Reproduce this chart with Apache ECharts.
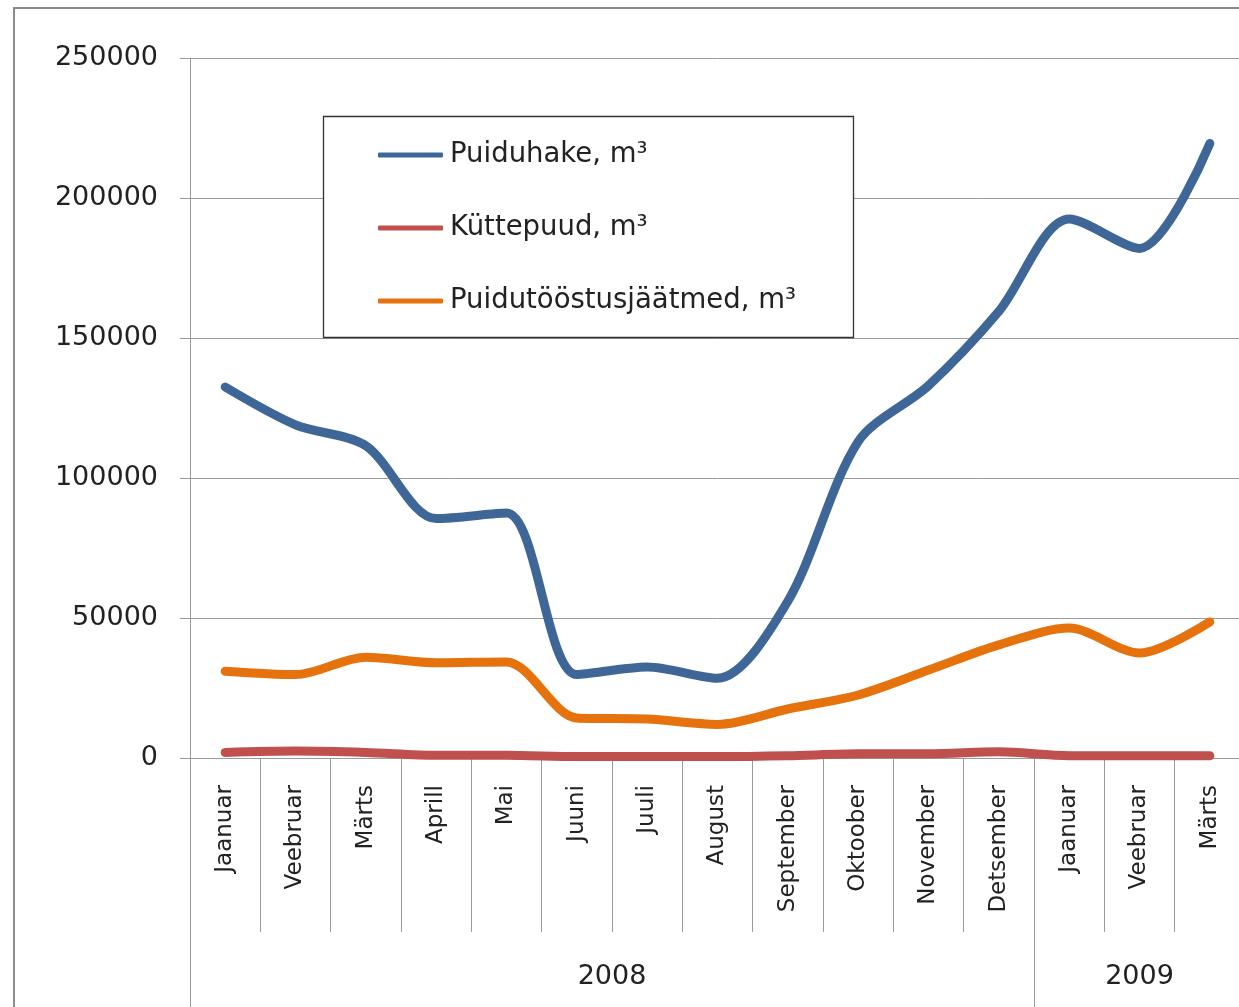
<!DOCTYPE html>
<html>
<head>
<meta charset="utf-8">
<script src="https://cdn.jsdelivr.net/npm/echarts@6/dist/echarts.min.js"></script>
<style>
html,body{margin:0;padding:0;background:#fff;overflow:hidden;width:1239px;height:1007px;}
#c{width:1245px;height:1007px;}
</style>
</head>
<body>
<div id="c"></div>
<script>
var months = ['Jaanuar','Veebruar','Märts','Aprill','Mai','Juuni','Juuli','August','September','Oktoober','November','Detsember','Jaanuar','Veebruar','Märts'];
var years = ['2008','2009'];
var yearSpans = [12, 3];
var yTicks = [0, 50000, 100000, 150000, 200000, 250000];

var puiduhake = [132500,119000,111500,85500,87500,29800,32500,28500,56000,113000,133000,159500,192500,182000,219500];
var kuttepuud = [2000,2500,2000,1000,1000,500,500,500,800,1500,1500,2200,800,800,800];
var jaatmed   = [31000,29800,36000,34000,34300,14300,13900,12000,17500,22500,31400,40400,46400,37500,48600];

var seriesNames = ['Puiduhake, m³','Küttepuud, m³','Puidutööstusjäätmed, m³'];
var colors = ['#3E6797','#C0504D','#E5720D'];

// year group boundaries & centres (derived from spans)
var yearBounds = [0], yearCenters = [];
(function(){ var acc = 0; for (var i = 0; i < yearSpans.length; i++) { yearCenters.push(acc + yearSpans[i]/2); acc += yearSpans[i]; yearBounds.push(acc); } })();

var chart = echarts.init(document.getElementById('c'));
var gray = '#9a9a9a';
var txt = '#222';
var font = 'DejaVu Sans';
var SMOOTH = 0.3;

chart.setOption({
  animation: false,
  backgroundColor: '#fff',
  textStyle: { fontFamily: font },
  graphic: [
    { type: 'rect', z: 0, shape: { x: 14, y: 8, width: 1400, height: 1200 }, style: { fill: 'none', stroke: '#8a8a8a', lineWidth: 2 } },
    { type: 'rect', z: 3, shape: { x: 323.5, y: 116.5, width: 530, height: 221 }, style: { fill: '#fff', stroke: '#333', lineWidth: 1.3 } }
  ],
  legend: {
    orient: 'vertical',
    left: 378, top: 140,
    padding: 0,
    itemWidth: 65, itemHeight: 5, itemGap: 43,
    icon: 'roundRect',
    z: 5,
    data: seriesNames,
    textStyle: { fontFamily: font, fontSize: 27.5, color: txt, lineHeight: 30, padding: [0,0,0,2] }
  },
  grid: { left: 190, top: 58, bottom: 249, right: 0, containLabel: false },
  xAxis: [{
    type: 'category',
    data: months,
    boundaryGap: true,
    axisLine: { show: true, lineStyle: { color: gray, width: 1 } },
    axisTick: { show: true, interval: 0, length: 174, lineStyle: { color: gray, width: 1 } },
    axisLabel: { interval: 0, rotate: 90, margin: 27, fontFamily: font, fontSize: 23, color: txt },
    splitLine: { show: false }
  }, {
    type: 'value',
    position: 'bottom',
    min: 0, max: yearBounds[yearBounds.length-1],
    axisLine: { show: false },
    axisTick: { show: true, customValues: yearBounds, length: 249, lineStyle: { color: gray, width: 1 } },
    axisLabel: {
      show: true, customValues: yearCenters, margin: 204,
      fontFamily: font, fontSize: 27, color: txt, lineHeight: 30,
      formatter: function (v) { var i = yearCenters.indexOf(v); return i >= 0 ? years[i] : ''; }
    },
    splitLine: { show: false }
  }],
  yAxis: {
    type: 'value',
    min: yTicks[0], max: yTicks[yTicks.length-1], interval: yTicks[1]-yTicks[0],
    axisLine: { show: true, lineStyle: { color: gray, width: 1 } },
    axisTick: { show: true, length: 10, lineStyle: { color: gray, width: 1 } },
    axisLabel: { margin: 32, fontFamily: font, fontSize: 27, color: txt, formatter: function (v) { return String(v); } },
    splitLine: { show: true, lineStyle: { color: gray, width: 1 } }
  },
  series: [
    { name: seriesNames[0], type: 'line', data: puiduhake, smooth: SMOOTH, symbol: 'none', z: 2, color: colors[0], lineStyle: { width: 9, color: colors[0], cap: 'round', join: 'round' } },
    { name: seriesNames[1], type: 'line', data: kuttepuud, smooth: SMOOTH, symbol: 'none', z: 2, color: colors[1], lineStyle: { width: 9, color: colors[1], cap: 'round', join: 'round' } },
    { name: seriesNames[2], type: 'line', data: jaatmed, smooth: SMOOTH, symbol: 'none', z: 2, color: colors[2], lineStyle: { width: 9, color: colors[2], cap: 'round', join: 'round' } }
  ]
});
</script>
</body>
</html>
